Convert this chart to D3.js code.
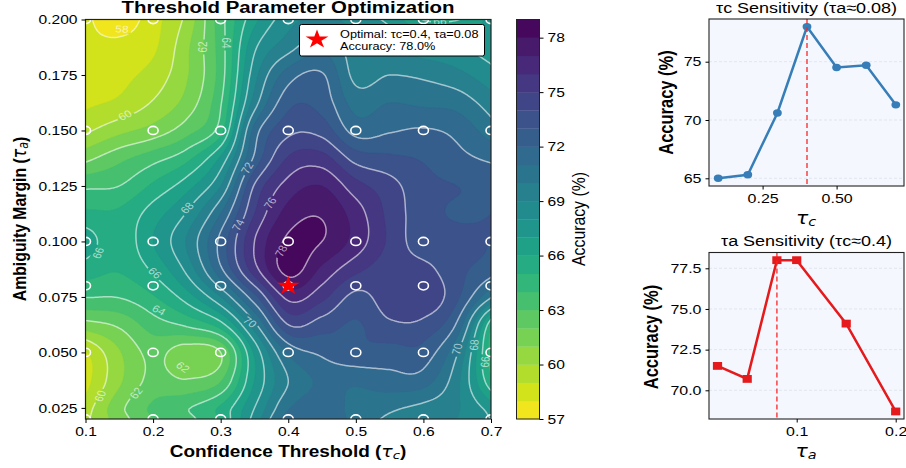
<!DOCTYPE html>
<html><head><meta charset="utf-8">
<script src="https://cdn.jsdelivr.net/npm/d3@7/dist/d3.min.js"></script>
<style>html,body{margin:0;padding:0;background:#fff}svg{display:block}text{font-family:"Liberation Sans",Arial,sans-serif;fill:#000}</style>
</head><body><svg id="c" width="906" height="468"></svg>
<script>
// ---- data ----
const gridTc=[0.1,0.15,0.2,0.25,0.3,0.35,0.4,0.45,0.5,0.55,0.6,0.65,0.7];
const gridTa=[0.2,0.1875,0.175,0.1625,0.15,0.1375,0.125,0.1125,0.1,0.0875,0.075,0.0625,0.05,0.0375,0.025,0.02];
const accuracyGrid=[
[58.2,57.4,58.6,60.3,63.6,66.7,68.6,69.2,68.6,67.7,65.95,65.95,67.3],
[58.2,58.3,58.8,60.8,63.5,67.8,69.6,70.7,69.4,69.0,68.3,68.0,67.5],
[58.4,58.7,59.4,60.9,63.5,68.6,71.5,72.1,69.7,70.0,69.8,69.3,68.4],
[58.8,59.2,60.1,61.4,63.9,69.5,72.7,72.6,70.6,71.0,70.8,70.6,69.5],
[59.8,60.7,61.4,62.6,64.6,71.4,73.7,73.6,71.6,71.9,72.1,71.7,70.5],
[61.7,62.7,63.6,64.7,67.2,72.2,75.1,75.4,73.6,73.2,72.9,72.3,71.8],
[63.8,64.0,65.2,66.6,69.0,74.1,76.4,77.0,75.4,74.4,73.3,73.0,72.8],
[65.2,65.2,66.5,68.1,71.0,75.0,77.4,77.9,76.5,74.7,73.4,72.9,73.0],
[66.5,65.4,67.0,69.1,72.3,76.0,78.2,78.0,76.6,74.8,73.4,73.3,73.0],
[65.5,65.1,66.2,68.3,71.8,75.6,78.4,76.8,75.3,74.5,74.3,73.3,72.5],
[64.05,64.05,64.9,66.5,69.0,72.7,76.3,75.3,73.7,74.6,74.8,73.2,70.1],
[61.6,62.2,63.5,64.2,65.6,69.7,74.0,73.5,72.9,73.8,73.7,71.8,65.3],
[58.9,60.9,62.3,61.4,62.0,67.2,71.2,72.2,72.8,72.6,72.6,70.1,64.5],
[58.6,60.8,62.3,62.05,62.9,67.0,70.0,71.2,71.2,71.6,71.5,69.3,65.2],
[59.5,61.7,63.2,63.9,65.2,68.0,70.9,71.5,70.7,70.2,69.7,69.1,67.6],
[59.8,61.5,63.0,63.7,65.2,68.4,71.5,71.7,70.7,69.8,69.5,69.0,68.0]];
const sampleTc=[0.1,0.2,0.3,0.4,0.5,0.6,0.7];
const sampleTa=[0.02,0.05,0.08,0.1,0.15,0.2];
const fillLevels=d3.range(57,80);
const lineLevels=[58,60,62,64,66,68,70,72,74,76,78];
const cbarTicks=[57,60,63,66,69,72,75,78];
const mainXTicks=[0.1,0.2,0.3,0.4,0.5,0.6,0.7];
const mainYTicks=[0.025,0.05,0.075,0.1,0.125,0.15,0.175,0.2];
const tcSens=[65,65.3,70.6,78,74.5,74.7,71.3];
const taSens=[71.5,70.7,78,78,74.1,68.7];
const tcSensTicks=[0.25,0.5], tcSensY=[65,70,75];
const taSensTicks=[0.1,0.2], taSensY=[70,72.5,75,77.5];
const bestTc=0.4,bestTa=0.08;
// inline contour labels: level, page x, page y, angle
const contourLabels=[
[58,122,29,3],[60,125,115,-25],[62,203,47,-90],[64,226,43,90],
[68,187,208,-45],[72,247,168,-60],[74,238,225,-60],[76,270,203,-55],[78,281,251,-60],
[66,98,253,-65],[66,155,273,40],[64,159,310,25],[70,250,322,35],
[62,183,367,35],[62,136,393,-50],[60,100,396,-65],[70,457,349,-75],[68,474,345,-85],[66,485,362,-85],[66,440,21,0]
];
// ---- layout ----
const S=1.2; // reference is horizontally stretched
const svg=d3.select('#c');
const FONT='"Liberation Sans",Arial,sans-serif', MATH='"DejaVu Sans",sans-serif';
const M={l:85.5,r:491,t:19.5,b:419};
const sx=d3.scaleLinear([0.1,0.7],[M.l,M.r]);
const sy=d3.scaleLinear([0.02,0.2],[M.b,M.t]);
function txt(g,x,y,s,o={}){const t=g.append('text').attr('transform',`translate(${x},${y}) scale(${S},1) rotate(${o.rot||0})`)
 .attr('text-anchor',o.anchor||'middle').attr('font-size',o.size||13).attr('font-weight',o.weight||'normal');
 if(o.opacity!=null)t.attr('fill-opacity',o.opacity); if(o.fill)t.style('fill',o.fill); if(o.family)t.style('font-family',o.family);
 if(o.baseline)t.attr('dominant-baseline',o.baseline);
 if(Array.isArray(s))s.forEach(p=>{const ts=t.append('tspan').text(p.t);if(p.italic)ts.attr('font-style','italic');if(p.family)ts.style('font-family',p.family);if(p.weight)ts.attr('font-weight',p.weight);if(p.dy)ts.attr('dy',p.dy);if(p.size)ts.attr('font-size',p.size);});
 else t.text(s);
 return t;}
function styleAxis(g,size){g.select('.domain').remove();g.selectAll('line').attr('stroke','#000').attr('stroke-width',1);
 g.selectAll('text').each(function(){const t=d3.select(this);const x=+t.attr('x')||0,y=+t.attr('y')||0;
  t.attr('transform',`translate(${x},${y}) scale(${S},1)`).attr('x',0).attr('y',0).attr('font-size',size).style('font-family',FONT);});
 g.attr('font-family',null);}
function hermite(xs,ys,x){let i=0;while(i<xs.length-2&&x>xs[i+1])i++;const x0=xs[i],x1=xs[i+1],h=x1-x0,t=(x-x0)/h;
 const m0=i===0?(ys[1]-ys[0])/(xs[1]-xs[0]):(ys[i+1]-ys[i-1])/(xs[i+1]-xs[i-1]);
 const n=xs.length;const m1=i===n-2?(ys[n-1]-ys[n-2])/(xs[n-1]-xs[n-2]):(ys[i+2]-ys[i])/(xs[i+2]-xs[i]);
 const t2=t*t,t3=t2*t;return (2*t3-3*t2+1)*ys[i]+(t3-2*t2+t)*h*m0+(-2*t3+3*t2)*ys[i+1]+(t3-t2)*h*m1;}
// smooth the read grid only for drawing the contours
const nx=204,ny=200,field=new Float64Array(nx*ny);
const taAsc=gridTa.slice().reverse(),gridAsc=accuracyGrid.slice().reverse();
for(let j=0;j<ny;j++){const ta=0.2-0.18*j/(ny-1);
 const col=gridTc.map((_,c)=>hermite(taAsc,gridAsc.map(r=>r[c]),ta));
 for(let i=0;i<nx;i++){const tc=0.1+0.6*i/(nx-1);field[j*nx+i]=hermite(gridTc,col,tc);}}
const proj=d3.geoTransform({point(x,y){this.stream.point(sx(0.1+0.6*(x-0.5)/(nx-1)),sy(0.2-0.18*(y-0.5)/(ny-1)));}});
const path=d3.geoPath(proj);
const bandColor=i=>d3.interpolateViridis(1-(i+0.5)/22);
const defs=svg.append('defs');
defs.append('clipPath').attr('id','pc').append('rect').attr('x',M.l).attr('y',M.t).attr('width',M.r-M.l).attr('height',M.b-M.t);
const plot=svg.append('g').attr('clip-path','url(#pc)');
plot.append('rect').attr('x',M.l).attr('y',M.t).attr('width',M.r-M.l).attr('height',M.b-M.t).attr('fill',bandColor(0));
const contours=d3.contours().size([nx,ny]).smooth(true);
fillLevels.slice(1,-1).forEach((lv,i)=>{plot.append('path').attr('d',path(contours.contour(field,lv))).attr('fill',bandColor(i+1)).attr('stroke',bandColor(i+1)).attr('stroke-width',0.3);});
// mask that opens gaps for the inline labels
const mask=defs.append('mask').attr('id','gaps').attr('maskUnits','userSpaceOnUse').attr('x',0).attr('y',0).attr('width',906).attr('height',468);
mask.append('rect').attr('width',906).attr('height',468).attr('fill','#fff');
const visRot=v=>Math.atan2(Math.sin(v*Math.PI/180),Math.cos(v*Math.PI/180)/S)*180/Math.PI;
contourLabels.forEach(([lv,px,py,rot])=>{mask.append('rect').attr('x',-7.5).attr('y',-5).attr('width',15).attr('height',10).attr('fill','#000')
 .attr('transform',`translate(${px},${py}) scale(${S},1) rotate(${visRot(rot)})`);});
const lines=plot.append('g').attr('mask','url(#gaps)');
lineLevels.forEach(lv=>{lines.append('path').attr('d',path(contours.contour(field,lv))).attr('fill','none').attr('stroke','#fff').attr('stroke-opacity',0.58).attr('stroke-width',1.5);});
contourLabels.forEach(([lv,px,py,rot])=>{txt(plot,px,py,String(lv),{size:10,rot:visRot(rot),opacity:0.62,fill:'#fff',baseline:'central'});});
// sample points
sampleTa.forEach(ta=>sampleTc.forEach(tc=>{plot.append('ellipse').attr('cx',sx(tc)).attr('cy',sy(ta)).attr('rx',5).attr('ry',4.1).attr('fill','none').attr('stroke','#fff').attr('stroke-width',1.6);}));
const starPath=d3.symbol(d3.symbolStar,112)();
plot.append('path').attr('d',starPath).attr('fill','#ff0000').attr('transform',`translate(${sx(bestTc)},${sy(bestTa)}) scale(${S},1)`);
// legend
const leg=svg.append('g');
leg.append('rect').attr('x',299.5).attr('y',24.5).attr('width',185).attr('height',31.5).attr('rx',2).attr('fill','#fff').attr('stroke','#000').attr('stroke-width',1);
leg.append('path').attr('d',starPath).attr('fill','#ff0000').attr('transform',`translate(317,39.5) scale(${S},1)`);
txt(leg,340,37.5,'Optimal: τc=0.4, τa=0.08',{anchor:'start',size:10.6});
txt(leg,340,49.5,'Accuracy: 78.0%',{anchor:'start',size:10.6});
// frame + axes
svg.append('rect').attr('x',M.l).attr('y',M.t).attr('width',M.r-M.l).attr('height',M.b-M.t).attr('fill','none').attr('stroke','#222').attr('stroke-width',1.2);
const ax=svg.append('g').attr('transform',`translate(0,${M.b})`).call(d3.axisBottom(sx).tickValues(mainXTicks).tickFormat(d3.format('.1f')).tickSize(4).tickPadding(4));styleAxis(ax,13);
const ay=svg.append('g').attr('transform',`translate(${M.l},0)`).call(d3.axisLeft(sy).tickValues(mainYTicks).tickFormat(d3.format('.3f')).tickSize(4).tickPadding(4));styleAxis(ay,13);
txt(svg,288,13,'Threshold Parameter Optimization',{size:17,weight:'bold'});
txt(svg,288,457,[{t:'Confidence Threshold ('},{t:'τ',italic:true,family:MATH,weight:'normal'},{t:'c',italic:true,family:MATH,weight:'normal',dy:2,size:11},{t:')',dy:-2}],{size:15.8,weight:'bold'});
txt(svg,26,219,[{t:'Ambiguity Margin ('},{t:'τ',italic:true,family:MATH,weight:'normal'},{t:'a',italic:true,family:MATH,weight:'normal',dy:2,size:11},{t:')',dy:-2}],{size:15.8,weight:'bold',rot:-90});
// colourbar
const C={l:516.5,r:539.5};
const cs=d3.scaleLinear([57,79],[M.b,M.t]);
fillLevels.slice(0,-1).forEach((lv,i)=>{svg.append('rect').attr('x',C.l).attr('width',C.r-C.l).attr('y',cs(lv+1)).attr('height',cs(lv)-cs(lv+1)+0.3).attr('fill',bandColor(i));});
svg.append('rect').attr('x',C.l).attr('y',M.t).attr('width',C.r-C.l).attr('height',M.b-M.t).attr('fill','none').attr('stroke','#222').attr('stroke-width',1);
const ac=svg.append('g').attr('transform',`translate(${C.r},0)`).call(d3.axisRight(cs).tickValues(cbarTicks).tickSize(4).tickPadding(4));styleAxis(ac,13);
txt(svg,585,219,'Accuracy (%)',{size:15.8,rot:-90});
// sensitivity panels
function panel(o){const g=svg.append('g');const w=o.r-o.l,h=o.b-o.t;
 g.append('rect').attr('x',o.l).attr('y',o.t).attr('width',w).attr('height',h).attr('fill','#f4f8fe');
 const x=d3.scaleLinear(o.xd,o.xr),y=d3.scaleLinear(o.yd,o.yr);
 o.yt.forEach(v=>g.append('line').attr('x1',o.l).attr('x2',o.r).attr('y1',y(v)).attr('y2',y(v)).attr('stroke','#b0b8c8').attr('stroke-opacity',0.35).attr('stroke-width',0.8).attr('stroke-dasharray','3,2'));
 g.append('path').attr('d',d3.line().x((d,i)=>x(o.xs[i])).y(d=>y(d))(o.ys)).attr('fill','none').attr('stroke',o.color).attr('stroke-width',2.5);
 o.ys.forEach((d,i)=>{if(o.square)g.append('rect').attr('x',x(o.xs[i])-4.6).attr('y',y(d)-3.9).attr('width',9.2).attr('height',7.8).attr('fill',o.color);
  else g.append('ellipse').attr('cx',x(o.xs[i])).attr('cy',y(d)).attr('rx',4.4).attr('ry',3.7).attr('fill',o.color);});
 g.append('line').attr('x1',x(o.best)).attr('x2',x(o.best)).attr('y1',o.t).attr('y2',o.b).attr('stroke','#ff2020').attr('stroke-opacity',0.8).attr('stroke-width',1.6).attr('stroke-dasharray','5,3');
 g.append('rect').attr('x',o.l).attr('y',o.t).attr('width',w).attr('height',h).attr('fill','none').attr('stroke','#222').attr('stroke-width',1.1);
 const ax=g.append('g').attr('transform',`translate(0,${o.b})`).call(d3.axisBottom(x).tickValues(o.xt).tickFormat(d3.format(o.xf)).tickSize(3.5).tickPadding(4));styleAxis(ax,13.3);
 const ay=g.append('g').attr('transform',`translate(${o.l},0)`).call(d3.axisLeft(y).tickValues(o.yt).tickFormat(d3.format(o.yf)).tickSize(3.5).tickPadding(4));styleAxis(ay,13.3);
 txt(g,806.5,o.titleY,o.title,{size:15});
 txt(g,806,o.xlabY,[{t:'τ',italic:true,family:MATH},{t:o.sub,italic:true,family:MATH,dy:2,size:12}],{size:17});
 txt(g,o.ylabX,o.ylabY,'Accuracy (%)',{size:16.5,weight:'bold',rot:-90});
}
panel({l:709,r:904,t:19,b:186,xd:[0.1,0.7],xr:[718.2,895.8],yd:[65,75],yr:[178.3,61.7],xs:sampleTc,ys:tcSens,color:'#377eb8',best:bestTc,
 xt:tcSensTicks,yt:tcSensY,xf:'.2f',yf:'d',title:'τc Sensitivity (τa≈0.08)',titleY:13,xlabY:224,sub:'c',ylabX:673,ylabY:102.5});
panel({l:709,r:904,t:252.5,b:419,xd:[0.1,0.2],xr:[796.7,895.7],yd:[70,77.5],yr:[390.3,268.3],xs:sampleTa,ys:taSens,color:'#e41a1c',square:true,best:bestTa,
 xt:taSensTicks,yt:taSensY,xf:'.1f',yf:'.1f',title:'τa Sensitivity (τc≈0.4)',titleY:246,xlabY:457,sub:'a',ylabX:658,ylabY:337});
</script></body></html>
